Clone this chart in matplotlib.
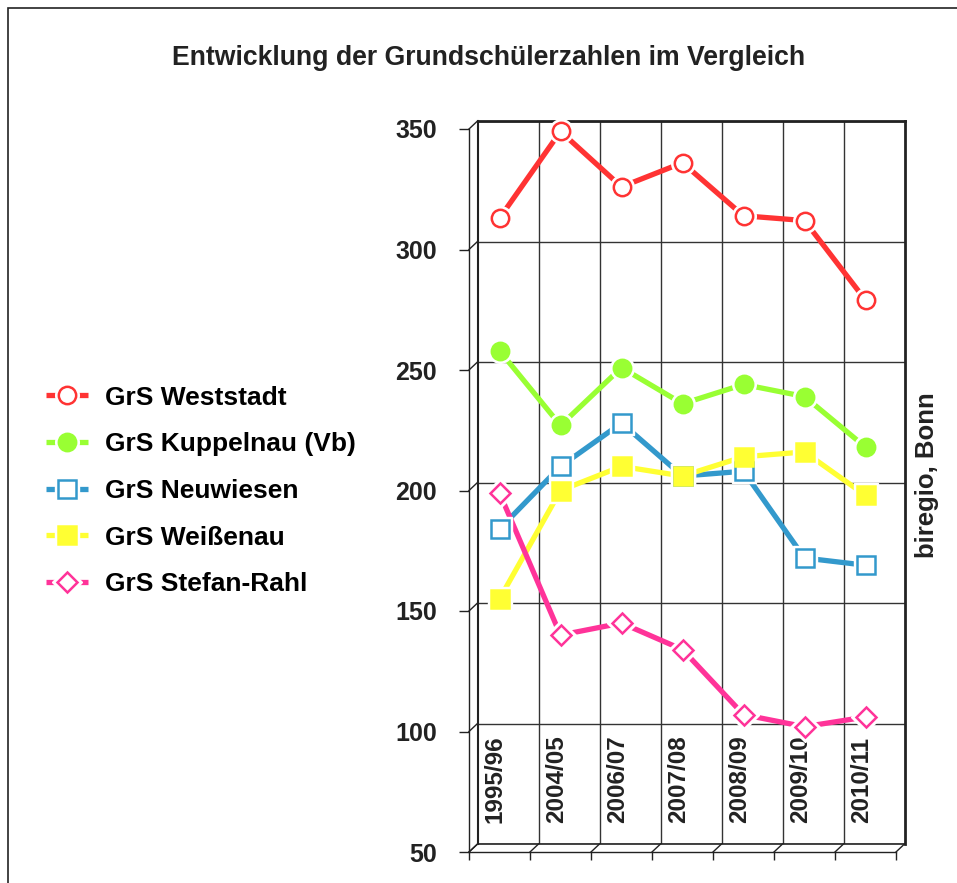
import matplotlib
matplotlib.use("Agg")
import matplotlib.pyplot as plt
from matplotlib.patches import Rectangle

# ------------------------------------------------------------
# Data
# ------------------------------------------------------------
years = ["1995/96", "2004/05", "2006/07", "2007/08", "2008/09", "2009/10", "2010/11"]

weststadt = [313, 349, 326, 336, 314, 312, 279]
kuppelnau = [258, 227, 251, 236, 244, 239, 218]
neuwiesen = [184, 210, 228, 206, 208, 172, 169]
weissenau = [155, 200, 210, 206, 214, 216, 198]
stefan_rahl = [199, 140, 145, 134, 107, 102, 106]

labels = ["GrS Weststadt", "GrS Kuppelnau (Vb)", "GrS Neuwiesen",
          "GrS Weißenau", "GrS Stefan-Rahl"]
colors = ["#ff3333", "#99ff33", "#3399cc", "#ffff33", "#ff3399"]
markers = ["o", "o", "s", "s", "D"]
filled = [False, True, False, True, False]
yticks = [50, 100, 150, 200, 250, 300, 350]

W, H = 957, 883
narrow = ["Liberation Sans Narrow", "Liberation Sans", "DejaVu Sans"]
sans = ["Liberation Sans", "DejaVu Sans"]

fig = plt.figure(figsize=(W / 100, H / 100), dpi=100)

# figure border (only left/top visible in the reference)
fig.patches.append(Rectangle((8 / W, -0.1), 1.2, 1 - 8 / H + 0.1,
                             transform=fig.transFigure, fill=False,
                             edgecolor="#222222", linewidth=1.2))

# front frame and back wall (pseudo 3D depth offset)
fx0, fx1, fy0, fy1 = 469, 896, 129, 852
dx, dy = 8.5, 8
front_rect = [fx0 / W, 1 - fy1 / H, (fx1 - fx0) / W, (fy1 - fy0) / H]
back_rect = [(fx0 + dx) / W, 1 - (fy1 - dy) / H, (fx1 - fx0) / W, (fy1 - fy0) / H]

n = len(years)
back = fig.add_axes(back_rect)
back.set_xlim(0, n)
back.set_ylim(50, 350)
for v in yticks:
    back.axhline(v, color="#333333", lw=1.0, zorder=1)
for i in range(1, n):
    back.axvline(i, color="#333333", lw=1.0, zorder=1)
for side in ["left", "top", "right", "bottom"]:
    back.spines[side].set_color("#222222")
    back.spines[side].set_linewidth(2.0)
back.spines["left"].set_linewidth(1.5)
back.spines["bottom"].set_linewidth(1.2)
back.set_xticks([])
back.set_yticks([])

ax = fig.add_axes(front_rect)
ax.patch.set_alpha(0)
ax.set_xlim(0, n)
ax.set_ylim(50, 350)
for side in ["top", "right"]:
    ax.spines[side].set_visible(False)
ax.spines["left"].set_linewidth(1.0)
ax.spines["bottom"].set_linewidth(1.0)
ax.spines["left"].set_color("#222222")
ax.spines["bottom"].set_color("#222222")
ax.set_yticks(yticks)
ax.set_yticklabels([str(v) for v in yticks], family=narrow,
                   fontweight="bold", fontsize=18, color="#222222")
ax.set_xticks(range(n + 1))
ax.set_xticklabels([])
ax.tick_params(axis="y", length=7, width=1.0, pad=16, color="#222222")
ax.tick_params(axis="x", length=6, width=1.0, color="#222222")

# depth connectors from front ticks to the back wall
ddx = dx / ((fx1 - fx0) / n)
ddy = dy / ((fy1 - fy0) / 300)
for v in yticks:
    ax.plot([0, ddx], [v, v + ddy], color="#222222", lw=1.0, clip_on=False)
for i in range(n + 1):
    ax.plot([i, i + ddx], [50, 50 + ddy], color="#222222", lw=1.0, clip_on=False)

# category labels inside the plot
for i, lab in enumerate(years):
    ax.text(i + 0.43, 62, lab, rotation=90, ha="center", va="bottom",
            family=narrow, fontweight="bold", fontsize=17.5, color="#222222")

# series
x = [i + 0.5 for i in range(n)]
series = [weststadt, kuppelnau, neuwiesen, weissenau, stefan_rahl]
handles = []
for vals, lab, col, mk, fl in zip(series, labels, colors, markers, filled):
    ms = 12.5 if mk != "D" else 10.5
    ln, = ax.plot(x, vals, color=col, lw=3.8, zorder=3, clip_on=False,
                  solid_capstyle="butt")
    halo, = ax.plot(x, vals, ls="none", marker=mk, ms=ms + 4.5,
                    mfc="white", mec="white", zorder=4, clip_on=False)
    mark, = ax.plot(x, vals, ls="none", marker=mk, ms=ms,
                    mfc=col if fl else "white", mec=col, mew=1.8,
                    zorder=5, clip_on=False)
    handles.append((ln, halo, mark))

fig.legend(handles, labels, loc="center left",
           bbox_to_anchor=(35 / W, 1 - 491 / H),
           frameon=False, handlelength=1.6, handletextpad=0.65,
           labelspacing=0.86, borderaxespad=0,
           prop={"family": sans, "weight": "bold", "size": 19})

fig.text(488.5 / W, 1 - 58 / H, "Entwicklung der Grundschülerzahlen im Vergleich",
         ha="center", va="center", family=sans, fontweight="bold",
         fontsize=19.2, color="#222222")
fig.text(927 / W, 1 - 475 / H, "biregio, Bonn", rotation=90, ha="center",
         va="center", family=narrow, fontweight="bold", fontsize=18.5,
         color="#222222")

fig.savefig("out.png", dpi=100)
